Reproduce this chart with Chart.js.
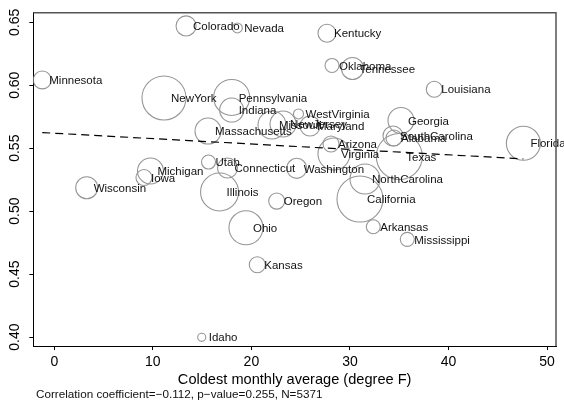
<!DOCTYPE html>
<html><head><meta charset="utf-8">
<script src="https://cdn.jsdelivr.net/npm/chart.js@4/dist/chart.umd.min.js"></script>
<style>html,body{margin:0;padding:0;background:#fff}#wrap{width:564px;height:408px;position:relative}</style>
</head><body><div id="wrap"><canvas id="c" width="564" height="408"></canvas></div>
<script>
const states = ['Minnesota','Colorado','Nevada','Kentucky','Oklahoma','Tennessee','Louisiana','NewYork','Pennsylvania','Indiana','WestVirginia','Massachusetts','Missouri','NewJersey','Maryland','Arizona','Virginia','Georgia','SouthCarolina','Alabama','Florida','Texas','NorthCarolina','California','Arkansas','Mississippi','Washington','Connecticut','Utah','Michigan','Iowa','Wisconsin','Illinois','Oregon','Ohio','Kansas','Idaho'];
const coldest = [-1.22,13.37,18.57,27.67,28.18,30.26,38.56,11.13,18.0,18.0,24.78,15.6,22.09,23.21,25.95,28.08,28.38,35.18,34.37,34.47,47.6,35.01,31.53,31.02,32.37,35.82,24.6,17.58,15.65,9.76,9.1,3.29,16.77,22.57,19.45,20.6,14.96];
const ratio = [0.6042,0.6471,0.6455,0.6413,0.6157,0.6133,0.5968,0.5899,0.5903,0.5803,0.5772,0.5636,0.5684,0.5692,0.5676,0.5533,0.5454,0.5720,0.5597,0.5581,0.5539,0.5434,0.5255,0.5096,0.4876,0.4776,0.5340,0.5343,0.5390,0.5319,0.5267,0.5186,0.5152,0.5080,0.4868,0.4574,0.3998];
const sampleN = [74,92,23,74,45,111,59,444,297,132,23,155,180,155,92,59,235,155,92,59,265,486,207,486,45,45,92,92,45,155,59,111,331,59,265,59,15];
const fitX = [-1.22, 47.6];
const fitY = [0.5624, 0.5415];
const xTicks = [0,10,20,30,40,50];
const yTicks = [0.40,0.45,0.50,0.55,0.60,0.65];
const xTitle = 'Coldest monthly average (degree F)';
const footnote = 'Correlation coefficient=\u22120.112, p\u2212value=0.255, N=5371';

const FONT = '"Liberation Sans", Arial, Helvetica, sans-serif';
const RSCALE = 1.044;

const bubbleData = coldest.map((x,i)=>({x:x, y:ratio[i], r:RSCALE*Math.sqrt(sampleN[i])}));
const fitData = fitX.map((x,i)=>({x:x, y:fitY[i]}));

const labelPlugin = {
  id:'labels',
  afterDatasetsDraw(chart){
    const ctx = chart.ctx;
    const meta = chart.getDatasetMeta(1);
    ctx.save();
    ctx.font = '11.5px ' + FONT;
    ctx.fillStyle = '#111';
    ctx.textAlign = 'left';
    ctx.textBaseline = 'middle';
    meta.data.forEach((el,i)=>{ ctx.fillText(states[i], el.x + 7, el.y + 1); });
    ctx.restore();
  },
  afterDraw(chart){
    const {ctx, chartArea:a, scales:{y}} = chart;
    ctx.save();
    ctx.strokeStyle = '#555'; ctx.lineWidth = 1.5;
    ctx.beginPath(); ctx.moveTo(a.left, a.top); ctx.lineTo(a.right, a.top); ctx.lineTo(a.right, a.bottom); ctx.stroke();
    ctx.font = '14px ' + FONT; ctx.fillStyle = '#000'; ctx.textAlign = 'center'; ctx.textBaseline = 'middle';
    yTicks.forEach(v=>{
      const py = y.getPixelForValue(v);
      ctx.save(); ctx.translate(15.5, py); ctx.rotate(-Math.PI/2); ctx.fillText(v.toFixed(2), 0, 0); ctx.restore();
    });
    ctx.font = '11.7px ' + FONT; ctx.textAlign = 'left'; ctx.fillStyle = '#111';
    ctx.fillText(footnote, 36, 395);
    ctx.restore();
  }
};

new Chart(document.getElementById('c'), {
  type: 'bubble',
  data: { datasets: [
    { type:'line', data: fitData, borderColor:'#000', borderWidth:1.2, borderDash:[8,5], pointRadius:0, fill:false, tension:0 },
    { type:'bubble', data: bubbleData, borderColor:'rgb(150,150,150)', backgroundColor:'rgba(0,0,0,0)', borderWidth:1.1 }
  ]},
  options: {
    responsive:false, animation:false, events:[],
    layout:{ autoPadding:false, padding:{ top:12.7, right:8, left:0, bottom:0 } },
    plugins:{ legend:{display:false}, tooltip:{enabled:false} },
    scales:{
      x:{ type:'linear', min:-2.13, max:50.91,
        afterBuildTicks(s){ s.ticks = xTicks.map(v=>({value:v})); },
        afterFit(s){ s.height = 62; },
        grid:{ drawOnChartArea:false, drawTicks:true, tickLength:4, color:'#000' },
        border:{ display:true, color:'#000', width:1 },
        ticks:{ font:{ family:FONT, size:14 }, color:'#000', padding:4, maxRotation:0, autoSkip:false },
        title:{ display:true, text:xTitle, color:'#000', font:{ family:FONT, size:14.6 }, padding:{ top:0, bottom:19 } }
      },
      y:{ type:'linear', min:0.3929, max:0.6576,
        afterBuildTicks(s){ s.ticks = yTicks.map(v=>({value:v})); },
        afterFit(s){ s.width = 33.3; },
        grid:{ drawOnChartArea:false, drawTicks:true, tickLength:4, color:'#000' },
        border:{ display:true, color:'#000', width:1 },
        ticks:{ display:false }
      }
    }
  },
  plugins:[labelPlugin]
});
</script>
</body></html>
